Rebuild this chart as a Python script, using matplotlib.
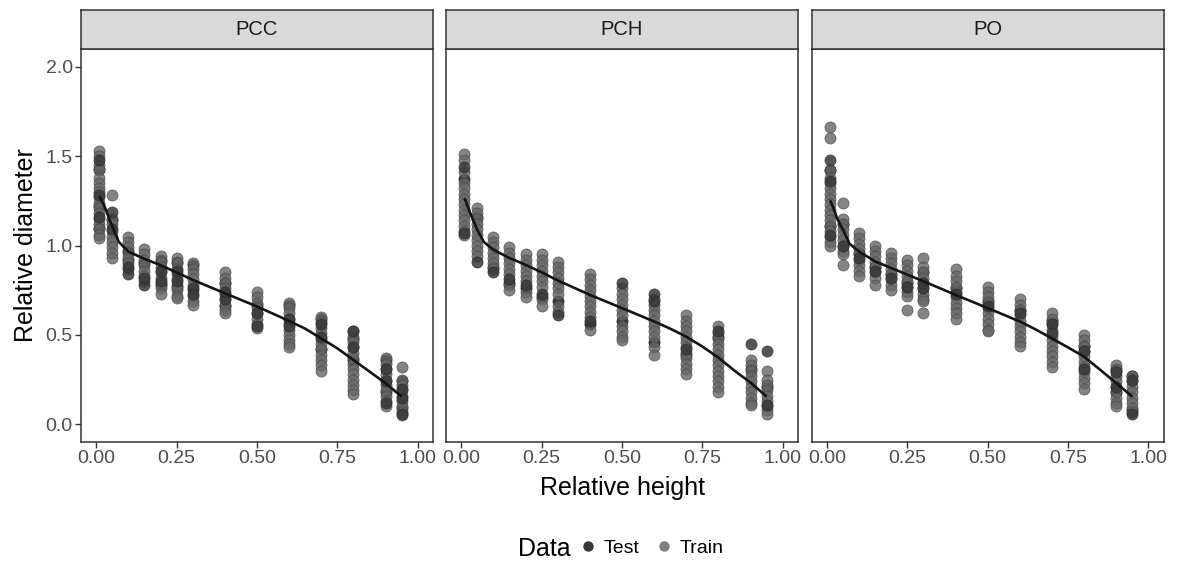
import matplotlib
matplotlib.use("Agg")
import matplotlib.pyplot as plt
from matplotlib.lines import Line2D

plt.rcParams['font.family'] = ['Liberation Sans', 'DejaVu Sans']

HEIGHTS = [0.01, 0.05, 0.1, 0.15, 0.2, 0.25, 0.3, 0.4, 0.5, 0.6, 0.7, 0.8, 0.9, 0.95]
PANELS = ['PCC', 'PCH', 'PO']

# relative diameters per height (one list per height, same order as HEIGHTS)
pcc_train = [
    [1.53, 1.50, 1.45, 1.42, 1.38, 1.35, 1.32, 1.30, 1.27, 1.24, 1.21, 1.18, 1.15, 1.12, 1.09, 1.06, 1.04],
    [1.28, 1.15, 1.12, 1.08, 1.05, 1.02, 0.99, 0.96, 0.93],
    [1.05, 1.02, 0.99, 0.96, 0.93, 0.90, 0.87],
    [0.98, 0.95, 0.92, 0.89, 0.86, 0.83, 0.80],
    [0.94, 0.91, 0.88, 0.85, 0.82, 0.79, 0.76, 0.73],
    [0.93, 0.90, 0.87, 0.84, 0.81, 0.78, 0.75, 0.72, 0.705],
    [0.90, 0.87, 0.84, 0.81, 0.78, 0.75, 0.72, 0.69, 0.67],
    [0.85, 0.82, 0.79, 0.76, 0.73, 0.70, 0.67, 0.64, 0.62],
    [0.74, 0.71, 0.68, 0.65, 0.62, 0.59, 0.56, 0.54],
    [0.68, 0.65, 0.62, 0.59, 0.56, 0.53, 0.50, 0.47, 0.45, 0.43],
    [0.60, 0.57, 0.54, 0.51, 0.48, 0.45, 0.42, 0.39, 0.36, 0.33, 0.30],
    [0.52, 0.49, 0.46, 0.43, 0.40, 0.37, 0.34, 0.31, 0.28, 0.25, 0.22, 0.19, 0.17],
    [0.37, 0.34, 0.31, 0.28, 0.25, 0.22, 0.19, 0.16, 0.13, 0.10],
    [0.32, 0.25, 0.22, 0.19, 0.16, 0.13, 0.10, 0.07, 0.05],
]
pcc_test = [
    [1.48, 1.43, 1.28, 1.22, 1.16, 1.10],
    [1.19, 1.14, 1.09],
    [0.84, 0.92, 0.88, 0.97],
    [0.78, 0.90, 0.82],
    [0.80, 0.92, 0.86, 0.78],
    [0.86, 0.91, 0.80, 0.77],
    [0.76, 0.89, 0.73],
    [0.70, 0.79, 0.74, 0.66],
    [0.55, 0.67, 0.62],
    [0.59, 0.67, 0.55],
    [0.56, 0.59, 0.49, 0.42],
    [0.52, 0.48, 0.43, 0.36],
    [0.24, 0.36, 0.31, 0.18, 0.12],
    [0.15, 0.24, 0.20, 0.09, 0.06],
]
pch_train = [
    [1.51, 1.48, 1.41, 1.35, 1.32, 1.29, 1.26, 1.23, 1.20, 1.17, 1.14, 1.11, 1.08, 1.06],
    [1.21, 1.18, 1.15, 1.12, 1.09, 1.06, 1.03, 1.00, 0.97, 0.94],
    [1.05, 1.02, 0.99, 0.96, 0.93, 0.90, 0.87],
    [0.99, 0.96, 0.93, 0.90, 0.87, 0.84, 0.78, 0.75],
    [0.95, 0.92, 0.89, 0.86, 0.83, 0.80, 0.74, 0.71],
    [0.95, 0.92, 0.89, 0.86, 0.83, 0.80, 0.77, 0.70, 0.66],
    [0.91, 0.88, 0.85, 0.82, 0.79, 0.76, 0.73, 0.66, 0.63],
    [0.84, 0.81, 0.78, 0.75, 0.72, 0.69, 0.66, 0.63, 0.60, 0.53],
    [0.76, 0.73, 0.70, 0.67, 0.64, 0.61, 0.55, 0.52, 0.49, 0.47],
    [0.70, 0.67, 0.64, 0.61, 0.58, 0.55, 0.52, 0.49, 0.43, 0.39],
    [0.61, 0.58, 0.55, 0.52, 0.49, 0.46, 0.43, 0.40, 0.37, 0.34, 0.31, 0.28],
    [0.55, 0.51, 0.48, 0.45, 0.42, 0.39, 0.36, 0.33, 0.30, 0.27, 0.24, 0.21, 0.18],
    [0.36, 0.33, 0.30, 0.27, 0.24, 0.21, 0.18, 0.15, 0.12, 0.11],
    [0.30, 0.25, 0.22, 0.19, 0.16, 0.13, 0.10, 0.08, 0.06],
]
pch_test = [
    [1.44, 1.37, 1.07],
    [0.91, 1.16],
    [0.85, 0.88],
    [0.81, 0.79],
    [0.78, 0.76],
    [0.73, 0.71],
    [0.61, 0.69],
    [0.58, 0.56],
    [0.79, 0.58],
    [0.73, 0.46, 0.69],
    [0.42, 0.39],
    [0.52, 0.49],
    [0.45, 0.31],
    [0.41, 0.21, 0.11],
]
po_train = [
    [1.66, 1.60, 1.42, 1.38, 1.35, 1.32, 1.29, 1.26, 1.23, 1.20, 1.17, 1.14, 1.11, 1.08, 1.05, 1.02, 1.00],
    [1.24, 1.15, 1.12, 1.09, 1.06, 1.03, 1.00, 0.97, 0.95, 0.89],
    [1.07, 1.04, 1.01, 0.98, 0.95, 0.92, 0.89, 0.86, 0.83],
    [1.00, 0.97, 0.94, 0.91, 0.88, 0.85, 0.82, 0.78],
    [0.96, 0.93, 0.90, 0.87, 0.84, 0.81, 0.78, 0.75],
    [0.92, 0.89, 0.86, 0.83, 0.80, 0.77, 0.74, 0.72, 0.64],
    [0.93, 0.88, 0.85, 0.82, 0.79, 0.76, 0.73, 0.70, 0.69, 0.62],
    [0.87, 0.83, 0.80, 0.77, 0.74, 0.71, 0.68, 0.65, 0.62, 0.59],
    [0.77, 0.74, 0.71, 0.68, 0.65, 0.62, 0.59, 0.56, 0.53, 0.52],
    [0.70, 0.67, 0.64, 0.61, 0.58, 0.55, 0.52, 0.49, 0.46, 0.44],
    [0.62, 0.59, 0.56, 0.53, 0.50, 0.47, 0.44, 0.41, 0.38, 0.35, 0.32],
    [0.50, 0.47, 0.44, 0.41, 0.38, 0.35, 0.32, 0.29, 0.26, 0.23, 0.20],
    [0.33, 0.30, 0.27, 0.24, 0.21, 0.18, 0.15, 0.12, 0.10],
    [0.27, 0.24, 0.21, 0.18, 0.15, 0.12, 0.09, 0.07],
]
po_test = [
    [1.48, 1.42, 1.36, 1.11, 1.06],
    [1.00, 1.12],
    [0.93, 0.96],
    [0.86, 0.88],
    [0.82, 0.84],
    [0.77, 0.79],
    [0.79, 0.85, 0.76],
    [0.73, 0.76],
    [0.66, 0.69],
    [0.62, 0.64],
    [0.56, 0.58, 0.51],
    [0.41, 0.44, 0.31],
    [0.29, 0.31, 0.21, 0.18],
    [0.06, 0.27, 0.25, 0.08],
]

# fitted taper curve
CURVE_X = [0.01, 0.02, 0.03, 0.04, 0.05, 0.07, 0.1, 0.15, 0.2, 0.25, 0.3, 0.4, 0.5,
           0.6, 0.65, 0.7, 0.75, 0.8, 0.85, 0.9, 0.95]
pcc_curve = [1.275, 1.24, 1.20, 1.15, 1.106, 1.02, 0.966, 0.925, 0.89, 0.849, 0.808, 0.733, 0.659,
             0.578, 0.535, 0.48, 0.425, 0.36, 0.295, 0.23, 0.155]
pch_curve = [1.265, 1.22, 1.17, 1.13, 1.088, 1.02, 0.976, 0.93, 0.892, 0.85, 0.805, 0.724, 0.65,
             0.575, 0.535, 0.49, 0.435, 0.373, 0.30, 0.233, 0.155]
po_curve = [1.252, 1.21, 1.16, 1.12, 1.088, 1.01, 0.966, 0.911, 0.874, 0.837, 0.80, 0.724, 0.65,
            0.575, 0.53, 0.48, 0.43, 0.378, 0.305, 0.23, 0.155]

TRAIN_COL = '#666666'
TEST_COL = '#383838'
LEGEND_TRAIN = '#808080'

data = {
    'PCC': (pcc_train, pcc_test, pcc_curve),
    'PCH': (pch_train, pch_test, pch_curve),
    'PO': (po_train, po_test, po_curve),
}

W, H = 1178, 565
fig = plt.figure(figsize=(W / 100, H / 100), dpi=100)

lefts = [81, 446, 811.7]
pw = 352
top, bottom = 49.3, 441.7
strip_top = 10

for k, name in enumerate(PANELS):
    l = lefts[k]
    ax = fig.add_axes([l / W, 1 - bottom / H, pw / W, (bottom - top) / H])
    train, test, curve = data[name]
    # draw order mixes the groups: odd test points under the train ones, even on top
    for h, ys in zip(HEIGHTS, test):
        under = ys[1::2]
        ax.scatter([h] * len(under), under, s=64, c=TEST_COL, edgecolors='#2a2a2a',
                   linewidths=0.5, zorder=2)
    for h, ys in zip(HEIGHTS, train):
        ax.scatter([h] * len(ys), ys, s=64, c=TRAIN_COL, edgecolors='#444444',
                   linewidths=0.5, alpha=0.8, zorder=3)
    for h, ys in zip(HEIGHTS, test):
        over = ys[0::2]
        ax.scatter([h] * len(over), over, s=64, c=TEST_COL, edgecolors='#2a2a2a',
                   linewidths=0.5, alpha=0.85, zorder=4)
    ax.plot(CURVE_X, curve, color='#141414', lw=1.9, zorder=5,
            solid_capstyle='butt', solid_joinstyle='round')

    ax.set_xlim(-0.0475, 1.0475)
    ax.set_ylim(-0.097, 2.097)
    ax.set_xticks([0, 0.25, 0.5, 0.75, 1.0])
    ax.set_xticklabels(['0.00', '0.25', '0.50', '0.75', '1.00'])
    ax.set_yticks([0, 0.5, 1.0, 1.5, 2.0])
    if k == 0:
        ax.set_yticklabels(['0.0', '0.5', '1.0', '1.5', '2.0'])
    else:
        ax.set_yticklabels([])
        ax.tick_params(axis='y', length=0)
    ax.tick_params(axis='both', labelsize=14, labelcolor='#4d4d4d',
                   color='#333333', width=1.0, pad=2)
    if k == 0:
        ax.tick_params(axis='y', length=4)
    ax.tick_params(axis='x', length=4)
    for sp in ax.spines.values():
        sp.set_color('#333333')
        sp.set_linewidth(1.1)

    # facet strip
    sax = fig.add_axes([l / W, 1 - top / H, pw / W, (top - strip_top) / H])
    sax.set_facecolor('#d9d9d9')
    sax.set_xticks([])
    sax.set_yticks([])
    for sp in sax.spines.values():
        sp.set_color('#333333')
        sp.set_linewidth(1.1)
    sax.text(0.5, 0.5, name, ha='center', va='center', fontsize=14.5,
             color='#1a1a1a', transform=sax.transAxes)

fig.text(622 / W, 1 - 488 / H, 'Relative height', ha='center', va='center',
         fontsize=18, color='black')
fig.text(26 / W, 1 - 245.5 / H, 'Relative diameter', ha='center', va='center',
         rotation=90, fontsize=18, color='black')

# legend at the bottom
fig.text(571 / W, 1 - 549 / H, 'Data', ha='right', va='center', fontsize=18,
         color='black')
handles = [
    Line2D([], [], ls='none', marker='o', markersize=6.5, markerfacecolor=TEST_COL,
           markeredgecolor=TEST_COL),
    Line2D([], [], ls='none', marker='o', markersize=6.5, markerfacecolor=LEGEND_TRAIN,
           markeredgecolor=LEGEND_TRAIN),
]
fig.legend(handles, ['Test', 'Train'], loc='center left',
           bbox_to_anchor=(580 / W, 1 - 548 / H), ncol=2, frameon=False,
           fontsize=14, handlelength=0.8, handletextpad=0.4, columnspacing=0.9,
           borderpad=0, borderaxespad=0)

fig.savefig('out.png', dpi=100)
